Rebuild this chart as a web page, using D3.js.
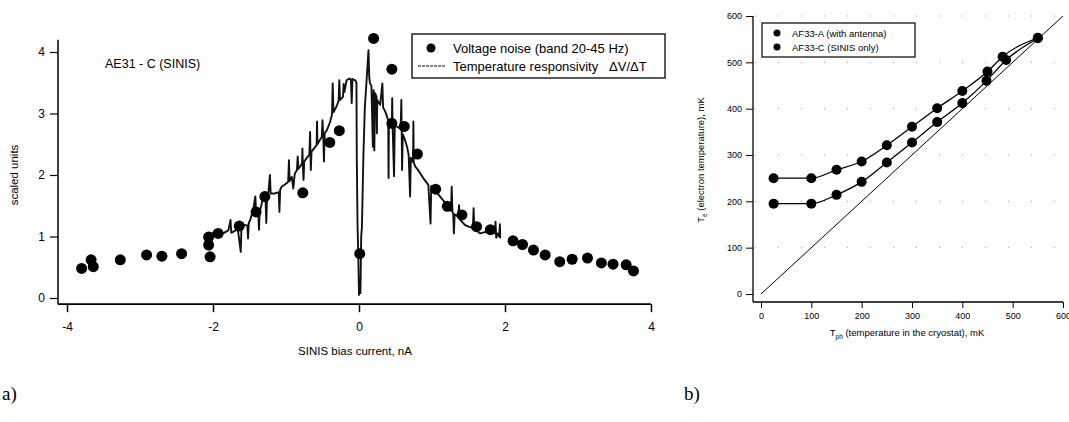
<!DOCTYPE html>
<html>
<head>
<meta charset="utf-8">
<script src="https://cdn.jsdelivr.net/npm/d3@7"></script>
<style>
  body { margin: 0; background: #fff; }
  svg { display: block; font-family: "Liberation Sans", Arial, sans-serif; }
</style>
</head>
<body>
<svg width="1069" height="422"></svg>
<script>
// ---- panel a) data ----
const noiseX = [-3.80, -3.67, -3.64, -3.27, -2.91, -2.70, -2.43, -2.06, -2.06, -2.04, -1.93, -1.64, -1.41, -1.29,
    -0.77, -0.40, -0.27, 0.01, 0.20, 0.45, 0.45, 0.62, 0.80, 1.05, 1.21, 1.41, 1.61, 1.80,
    2.11, 2.24, 2.39, 2.55, 2.75, 2.92, 3.13, 3.32, 3.48, 3.66, 3.76];
const noiseY = [0.48, 0.62, 0.51, 0.62, 0.70, 0.68, 0.72, 0.99, 0.86, 0.67, 1.05, 1.17, 1.40, 1.65,
    1.71, 2.53, 2.72, 0.72, 4.22, 3.72, 2.84, 2.79, 2.34, 1.77, 1.49, 1.35, 1.16, 1.11,
    0.93, 0.87, 0.78, 0.70, 0.59, 0.63, 0.65, 0.57, 0.55, 0.54, 0.44];

// temperature responsivity trace [current, value]
const responsivity = [
    [-2.08, 0.99], [-2.03, 1.04], [-1.97, 1.08], [-1.90, 1.04], [-1.86, 1.05], [-1.79, 1.10], [-1.76, 1.27],
    [-1.75, 1.06], [-1.72, 1.08], [-1.66, 1.12], [-1.62, 0.75], [-1.61, 1.15], [-1.58, 1.19], [-1.53, 1.18],
    [-1.52, 0.97], [-1.51, 1.22], [-1.49, 1.27], [-1.45, 1.43], [-1.42, 1.65], [-1.41, 1.40], [-1.38, 1.38],
    [-1.37, 1.11], [-1.36, 1.40], [-1.33, 1.55], [-1.31, 1.65], [-1.28, 1.60], [-1.27, 1.22], [-1.26, 1.62],
    [-1.24, 1.73], [-1.22, 2.00], [-1.21, 1.70], [-1.15, 1.70], [-1.10, 1.72], [-1.09, 1.40], [-1.08, 1.76],
    [-1.06, 1.81], [-1.01, 1.85], [-0.97, 1.89], [-0.96, 2.24], [-0.95, 1.90], [-0.92, 1.97], [-0.90, 1.78],
    [-0.88, 2.02], [-0.85, 2.08], [-0.84, 2.30], [-0.83, 2.10], [-0.80, 2.15], [-0.78, 2.19], [-0.775, 2.43],
    [-0.77, 2.18], [-0.76, 1.92], [-0.75, 2.22], [-0.72, 2.27], [-0.68, 2.33], [-0.67, 2.70], [-0.665, 2.35],
    [-0.66, 2.08], [-0.65, 2.38], [-0.61, 2.44], [-0.58, 2.49], [-0.575, 2.87], [-0.57, 2.50], [-0.53, 2.58],
    [-0.51, 2.62], [-0.50, 2.89], [-0.49, 2.64], [-0.48, 2.22], [-0.47, 2.68], [-0.44, 2.73], [-0.40, 2.85],
    [-0.37, 2.98], [-0.36, 3.49], [-0.35, 3.02], [-0.31, 3.11], [-0.28, 3.20], [-0.27, 3.54], [-0.26, 3.22],
    [-0.22, 3.27], [-0.21, 3.48], [-0.20, 3.35], [-0.17, 3.54], [-0.13, 3.57], [-0.11, 3.55], [-0.10, 3.17],
    [-0.09, 3.56], [-0.05, 3.54], [-0.035, 3.50], [-0.03, 2.24], [-0.02, 1.20], [-0.01, 0.70], [0.00, 0.05],
    [0.01, 0.30], [0.02, 0.08], [0.03, 1.00], [0.04, 1.15], [0.06, 2.30], [0.08, 3.10], [0.11, 3.65],
    [0.13, 4.03], [0.14, 3.60], [0.15, 3.49], [0.17, 3.45], [0.19, 2.46], [0.20, 3.38], [0.21, 2.40],
    [0.22, 3.33], [0.24, 3.27], [0.245, 2.68], [0.25, 3.22], [0.29, 3.14], [0.32, 3.49], [0.33, 3.10],
    [0.36, 3.03], [0.40, 2.89], [0.405, 1.95], [0.41, 2.87], [0.45, 2.81], [0.455, 3.25], [0.46, 2.80],
    [0.48, 1.98], [0.49, 2.80], [0.52, 2.79], [0.57, 2.75], [0.58, 3.22], [0.585, 2.70], [0.59, 2.08],
    [0.60, 2.66], [0.63, 2.57], [0.66, 2.45], [0.68, 2.33], [0.70, 1.65], [0.71, 2.28], [0.74, 2.21],
    [0.745, 2.87], [0.75, 2.20], [0.77, 2.14], [0.81, 2.08], [0.88, 1.95], [0.95, 1.84], [0.98, 1.21],
    [0.99, 1.82], [1.04, 1.76], [1.09, 1.68], [1.13, 1.62], [1.18, 1.55], [1.22, 1.49], [1.26, 1.42],
    [1.27, 1.81], [1.28, 1.40], [1.29, 1.38], [1.30, 1.05], [1.31, 1.36], [1.36, 1.32], [1.37, 1.51],
    [1.38, 1.28], [1.45, 1.19], [1.50, 1.16], [1.56, 1.14], [1.57, 1.46], [1.58, 1.12], [1.62, 1.09],
    [1.66, 1.05], [1.72, 1.07], [1.77, 1.08], [1.78, 1.16], [1.79, 1.07], [1.86, 1.05], [1.87, 1.24],
    [1.88, 0.98], [1.90, 1.05], [1.92, 1.00], [1.93, 1.20], [1.935, 0.97]
];

const ticksA_X = [-4, -2, 0, 2, 4];
const ticksA_Y = [0, 1, 2, 3, 4];

// ---- panel b) data ----
const tphA = [25, 100, 150, 200, 250, 300, 350, 400, 450, 480, 550];
const teA  = [250, 250, 268, 286, 321, 361, 401, 438, 480, 512, 553];
const tphC = [25, 100, 150, 200, 250, 300, 350, 400, 448, 487, 550];
const teC  = [195, 195, 214, 242, 284, 327, 371, 412, 460, 505, 552];
const diagonal = [0, 600];
const ticksB = [0, 100, 200, 300, 400, 500, 600];

const svg = d3.select("svg");

// ================= panel a =================
const xA = d3.scaleLinear().domain([-4, 4]).range([67, 651]);
const yA = d3.scaleLinear().domain([0, 4]).range([298, 52]);
const gA = svg.append("g");

// frame lines
gA.append("line")
    .attr("x1", 58).attr("x2", 58)
    .attr("y1", yA(4.2)).attr("y2", yA(-0.1))
    .attr("stroke", "#000").attr("stroke-width", 1.5);
gA.append("line")
    .attr("x1", 58).attr("x2", xA(4))
    .attr("y1", yA(-0.1)).attr("y2", yA(-0.1))
    .attr("stroke", "#000").attr("stroke-width", 1.8);

// y axis
gA.append("g")
    .attr("transform", "translate(58,0)")
    .call(d3.axisLeft(yA).tickValues(ticksA_Y).tickSize(8).tickPadding(5).tickFormat(d3.format("d")))
    .call(g => g.select(".domain").remove())
    .call(g => g.selectAll("line").attr("stroke-width", 1.2))
    .call(g => g.selectAll("text").attr("font-size", 12).attr("font-family", "Liberation Sans, Arial"));

// x axis
gA.append("g")
    .attr("transform", `translate(0,${yA(-0.1)})`)
    .call(d3.axisBottom(xA).tickValues(ticksA_X).tickSize(8).tickPadding(10).tickFormat(d => String(d)))
    .call(g => g.select(".domain").remove())
    .call(g => g.selectAll("line").attr("stroke-width", 1.5))
    .call(g => g.selectAll("text").attr("font-size", 12).attr("font-family", "Liberation Sans, Arial"));

gA.append("text")
    .attr("x", 355).attr("y", 355)
    .attr("text-anchor", "middle").attr("font-size", 11.5)
    .text("SINIS bias current, nA");

gA.append("text")
    .attr("transform", "translate(18,175) rotate(-90)")
    .attr("text-anchor", "middle").attr("font-size", 11.5)
    .text("scaled units");

gA.append("text")
    .attr("x", 105).attr("y", 68)
    .attr("font-size", 12.5)
    .text("AE31 - C (SINIS)");

// responsivity trace
const lineA = d3.line().x(d => xA(d[0])).y(d => yA(d[1]));
gA.append("path")
    .datum(responsivity)
    .attr("fill", "none")
    .attr("stroke", "#111")
    .attr("stroke-width", 1.9)
    .attr("stroke-linejoin", "round")
    .attr("d", lineA);

// noise dots
gA.selectAll(".noise")
    .data(noiseX.map((x, i) => [x, noiseY[i]]))
    .enter()
    .append("circle")
    .attr("cx", d => xA(d[0]))
    .attr("cy", d => yA(d[1]))
    .attr("r", 5.5)
    .attr("fill", "#000");

// legend a
const legA = gA.append("g");
legA.append("rect")
    .attr("x", 412).attr("y", 34).attr("width", 253).attr("height", 44)
    .attr("fill", "#fff").attr("stroke", "#000").attr("stroke-width", 1.3);
legA.append("circle").attr("cx", 431).attr("cy", 48).attr("r", 4.5).attr("fill", "#000");
legA.append("text").attr("x", 453).attr("y", 53).attr("font-size", 13)
    .text("Voltage noise (band 20-45 Hz)");
legA.append("line").attr("x1", 418).attr("x2", 445).attr("y1", 66).attr("y2", 66)
    .attr("stroke", "#000").attr("stroke-width", 1.2).attr("stroke-dasharray", "3,1");
legA.append("text").attr("x", 453).attr("y", 71).attr("font-size", 13)
    .attr("xml:space", "preserve")
    .text("Temperature responsivity   \u0394V/\u0394T");

svg.append("text").attr("x", 2).attr("y", 400)
    .attr("font-family", "Liberation Serif, Times New Roman, serif").attr("font-size", 19)
    .text("a)");

// ================= panel b =================
const xB = d3.scaleLinear().domain([0, 600]).range([761, 1063]);
const yB = d3.scaleLinear().domain([0, 600]).range([294, 16]);
const gB = svg.append("g");

// sparse dotted grid
gB.selectAll(".grid")
    .data(ticksB.slice(1))
    .enter()
    .append("line")
    .attr("x1", 755).attr("x2", 1066)
    .attr("y1", d => yB(d)).attr("y2", d => yB(d))
    .attr("stroke", "#999").attr("stroke-width", 1)
    .attr("stroke-dasharray", "1,22");

gB.append("line")
    .attr("x1", 753).attr("x2", 753)
    .attr("y1", yB(600)).attr("y2", 302)
    .attr("stroke", "#000").attr("stroke-width", 1.3);
gB.append("line")
    .attr("x1", 753).attr("x2", xB(600))
    .attr("y1", 302).attr("y2", 302)
    .attr("stroke", "#000").attr("stroke-width", 1.3);

gB.append("g")
    .attr("transform", "translate(753,0)")
    .call(d3.axisLeft(yB).tickValues(ticksB).tickSize(7).tickPadding(4).tickFormat(d3.format("d")))
    .call(g => g.select(".domain").remove())
    .call(g => g.selectAll("text").attr("font-size", 9).attr("font-family", "Liberation Sans, Arial"));

gB.append("g")
    .attr("transform", "translate(0,302)")
    .call(d3.axisBottom(xB).tickValues(ticksB).tickSize(6).tickPadding(5).tickFormat(d3.format("d")))
    .call(g => g.select(".domain").remove())
    .call(g => g.selectAll("text").attr("font-size", 9).attr("font-family", "Liberation Sans, Arial"));

const xlab = gB.append("text")
    .attr("x", 907).attr("y", 336)
    .attr("text-anchor", "middle").attr("font-size", 9.5);
xlab.append("tspan").text("T");
xlab.append("tspan").attr("font-size", 6.5).attr("dy", 3).text("ph");
xlab.append("tspan").attr("dy", -3).text(" (temperature in the cryostat), mK");

const ylab = gB.append("text")
    .attr("transform", "translate(704,160) rotate(-90)")
    .attr("text-anchor", "middle").attr("font-size", 9.5);
ylab.append("tspan").text("T");
ylab.append("tspan").attr("font-size", 6.5).attr("dy", 3).text("e");
ylab.append("tspan").attr("dy", -3).text(" (electron temperature), mK");

// diagonal Te = Tph
gB.append("path")
    .datum(diagonal)
    .attr("fill", "none").attr("stroke", "#000").attr("stroke-width", 1)
    .attr("d", d3.line().x(d => xB(d)).y(d => yB(d)));

const curve = d3.line().x(d => xB(d[0])).y(d => yB(d[1])).curve(d3.curveMonotoneX);
const serA = tphA.map((t, i) => [t, teA[i]]);
const serC = tphC.map((t, i) => [t, teC[i]]);

[serA, serC].forEach(ser => {
    gB.append("path").datum(ser)
        .attr("fill", "none").attr("stroke", "#000").attr("stroke-width", 1.3)
        .attr("d", curve);
    gB.selectAll(null).data(ser).enter().append("circle")
        .attr("cx", d => xB(d[0])).attr("cy", d => yB(d[1]))
        .attr("r", 5).attr("fill", "#000");
});

// legend b
const legB = gB.append("g");
legB.append("rect")
    .attr("x", 762).attr("y", 23).attr("width", 153).attr("height", 34)
    .attr("fill", "#fff").attr("stroke", "#000").attr("stroke-width", 1.2);
legB.append("circle").attr("cx", 777).attr("cy", 33).attr("r", 3.5).attr("fill", "#000");
legB.append("circle").attr("cx", 777).attr("cy", 47).attr("r", 3.5).attr("fill", "#000");
legB.append("text").attr("x", 792).attr("y", 36.5).attr("font-size", 9.5).text("AF33-A (with antenna)");
legB.append("text").attr("x", 792).attr("y", 50.5).attr("font-size", 9.5).text("AF33-C (SINIS only)");

svg.append("text").attr("x", 684).attr("y", 400)
    .attr("font-family", "Liberation Serif, Times New Roman, serif").attr("font-size", 19)
    .text("b)");
</script>
</body>
</html>
